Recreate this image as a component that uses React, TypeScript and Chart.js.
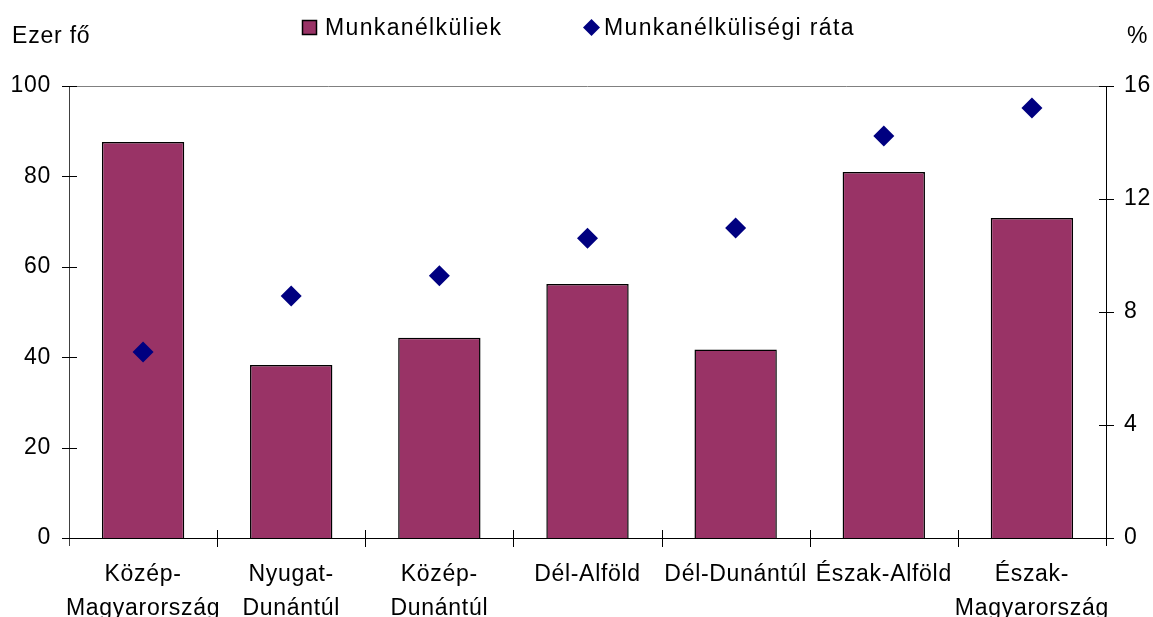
import React, { useEffect, useRef } from "react";
import { Chart, registerables } from "chart.js";

Chart.register(...registerables);

const categories: (string | string[])[] = [
  ["Közép-", "Magyarország"],
  ["Nyugat-", "Dunántúl"],
  ["Közép-", "Dunántúl"],
  "Dél-Alföld",
  "Dél-Dunántúl",
  "Észak-Alföld",
  ["Észak-", "Magyarország"],
];
const unemployed = [87.6, 38.3, 44.3, 56.2, 41.7, 81.0, 70.8];
const unemploymentRate = [6.58, 8.57, 9.28, 10.61, 10.97, 14.23, 15.22];
const leftTicks = [0, 20, 40, 60, 80, 100];
const rightTicks = [0, 4, 8, 12, 16];
const seriesNames = ["Munkanélküliek", "Munkanélküliségi ráta"];
const leftAxisTitle = "Ezer fő";
const rightAxisTitle = "%";

const FONT = '"Liberation Sans", Arial, Helvetica, sans-serif';
const FONT_SIZE = 23;
const BAR_COLOR = "#993366";
const DIAMOND_COLOR = "#000080";
const TICK_SPACING = "0.7px";

const decor = {
  id: "decor",
  beforeUpdate(chart: any) {
    chart.ctx.letterSpacing = TICK_SPACING;
  },
  beforeDraw(chart: any) {
    chart.ctx.letterSpacing = TICK_SPACING;
  },
  afterDatasetsDraw(chart: any) {
    const { ctx, chartArea: a, scales } = chart;
    const px = (v: number) => Math.round(v) + 0.5;
    const seg = (x1: number, y1: number, x2: number, y2: number) => {
      ctx.beginPath();
      ctx.moveTo(x1, y1);
      ctx.lineTo(x2, y2);
      ctx.stroke();
    };
    ctx.save();
    ctx.lineWidth = 1;
    // top border
    ctx.strokeStyle = "#808080";
    seg(a.left, px(a.top), a.right, px(a.top));
    // left axis
    ctx.strokeStyle = "#404040";
    seg(px(a.left), a.top, px(a.left), a.bottom + 8);
    ctx.strokeStyle = "#000";
    leftTicks.forEach((v) => {
      const y = px(scales.y.getPixelForValue(v));
      seg(a.left - 7, y, a.left + 8, y);
    });
    // right axis
    seg(px(a.right), a.top, px(a.right), a.bottom + 8);
    rightTicks.forEach((v) => {
      const y = px(scales.y1.getPixelForValue(v));
      seg(a.right - 7, y, a.right + 8, y);
    });
    // bottom axis
    seg(a.left - 7, px(a.bottom), a.right, px(a.bottom));
    const n = categories.length;
    const w = (a.right - a.left) / n;
    for (let i = 1; i < n; i++) {
      const x = px(a.left + i * w);
      seg(x, a.bottom - 8, x, a.bottom + 9);
    }
    ctx.restore();
  },
  afterDraw(chart: any) {
    const ctx = chart.ctx;
    ctx.save();
    ctx.font = `${FONT_SIZE}px ${FONT}`;
    ctx.fillStyle = "#000";
    ctx.textAlign = "left";
    ctx.textBaseline = "alphabetic";
    ctx.letterSpacing = "0.8px";
    ctx.fillText(leftAxisTitle, 12, 43);
    ctx.fillText(rightAxisTitle, 1127, 43);

    // legend
    ctx.letterSpacing = "1.35px";
    ctx.fillStyle = BAR_COLOR;
    ctx.fillRect(302.5, 20.5, 14, 14);
    ctx.strokeStyle = "#000";
    ctx.lineWidth = 1.5;
    ctx.strokeRect(302.5, 20.5, 14, 14);
    ctx.fillStyle = "#000";
    ctx.fillText(seriesNames[0], 325, 34.5);

    const cx = 591.5, cy = 27.5, r = 8.5;
    ctx.beginPath();
    ctx.moveTo(cx - r, cy);
    ctx.lineTo(cx, cy - r);
    ctx.lineTo(cx + r, cy);
    ctx.lineTo(cx, cy + r);
    ctx.closePath();
    ctx.fillStyle = DIAMOND_COLOR;
    ctx.fill();
    ctx.fillStyle = "#000";
    ctx.fillText(seriesNames[1], 604, 34.5);
    ctx.restore();
  },
};

export default function App() {
  const ref = useRef<HTMLCanvasElement>(null);
  useEffect(() => {
    if (!ref.current) return;
    const chart = new Chart(ref.current, {
      data: {
        labels: categories,
        datasets: [
          {
            type: "line",
            label: seriesNames[1],
            data: unemploymentRate,
            yAxisID: "y1",
            showLine: false,
            pointStyle: "rectRot",
            pointRadius: 10.5,
            pointBorderWidth: 0,
            pointBackgroundColor: DIAMOND_COLOR,
            pointBorderColor: DIAMOND_COLOR,
            order: 0,
          } as any,
          {
            type: "bar",
            label: seriesNames[0],
            data: unemployed,
            yAxisID: "y",
            backgroundColor: BAR_COLOR,
            borderColor: "#000",
            borderWidth: 1.5,
            categoryPercentage: 1,
            barPercentage: 0.556,
            order: 1,
          } as any,
        ],
      },
      options: {
        animation: false,
        responsive: true,
        maintainAspectRatio: false,
        layout: { padding: { top: 86, left: 0, right: 0, bottom: 0 } },
        plugins: {
          legend: { display: false },
          tooltip: { enabled: false },
          title: { display: false },
        },
        font: { family: FONT, size: FONT_SIZE },
        scales: {
          x: {
            type: "category",
            offset: true,
            grid: { display: false, drawTicks: false },
            border: { display: false },
            ticks: {
              color: "#000",
              font: { family: FONT, size: FONT_SIZE, lineHeight: 1.46 },
              padding: 20,
              maxRotation: 0,
              minRotation: 0,
              autoSkip: false,
            },
            afterFit: (s: any) => {
              s.height = 79;
            },
          },
          y: {
            type: "linear",
            position: "left",
            min: leftTicks[0],
            max: leftTicks[leftTicks.length - 1],
            grid: { display: false, drawTicks: false },
            border: { display: false },
            ticks: {
              stepSize: leftTicks[1] - leftTicks[0],
              color: "#000",
              font: { family: FONT, size: FONT_SIZE },
              padding: 18,
            },
            afterFit: (s: any) => {
              s.width = 69;
            },
          },
          y1: {
            type: "linear",
            position: "right",
            min: rightTicks[0],
            max: rightTicks[rightTicks.length - 1],
            grid: { display: false, drawTicks: false },
            border: { display: false },
            ticks: {
              stepSize: rightTicks[1] - rightTicks[0],
              color: "#000",
              font: { family: FONT, size: FONT_SIZE },
              padding: 18,
            },
            afterFit: (s: any) => {
              s.width = 47;
            },
          },
        },
      } as any,
      plugins: [decor],
    });
    return () => chart.destroy();
  }, []);
  return (
    <div
      style={{
        position: "fixed",
        left: 0,
        top: 0,
        width: 1153,
        height: 617,
        background: "#fff",
      }}
    >
      <canvas ref={ref} />
    </div>
  );
}
